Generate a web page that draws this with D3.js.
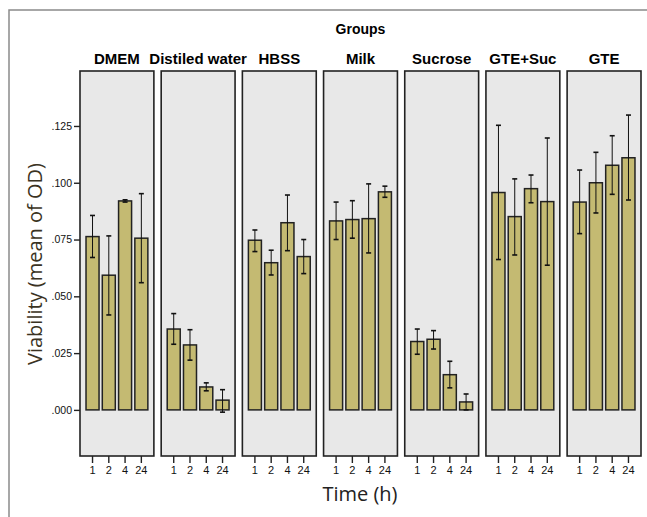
<!DOCTYPE html>
<html>
<head>
<meta charset="utf-8">
<script src="https://cdn.jsdelivr.net/npm/d3@7"></script>
<style>
  body { margin: 0; background: #fff; }
  svg text { font-family: "Liberation Sans", Arial, sans-serif; }
</style>
</head>
<body>
<div id="chart"></div>
<script>
// data
var groups = ["DMEM", "Distiled water", "HBSS", "Milk", "Sucrose", "GTE+Suc", "GTE"];
var times = ["1", "2", "4", "24"];
var yTicks = [0, 0.025, 0.05, 0.075, 0.1, 0.125];

// mean per group, one value per time
var means = [
  [0.0763, 0.0593, 0.0920, 0.0756],
  [0.0356, 0.0286, 0.0101, 0.0043],
  [0.0747, 0.0648, 0.0824, 0.0675],
  [0.0832, 0.0838, 0.0842, 0.0960],
  [0.0301, 0.0311, 0.0155, 0.0035],
  [0.0957, 0.0851, 0.0974, 0.0917],
  [0.0915, 0.1000, 0.1077, 0.1110]
];
// error bar low / high
var errLow = [
  [0.0671, 0.0418, 0.0915, 0.0560],
  [0.0289, 0.0219, 0.0084, -0.0010],
  [0.0697, 0.0594, 0.0701, 0.0600],
  [0.0750, 0.0756, 0.0691, 0.0936],
  [0.0245, 0.0268, 0.0097, 0.0000],
  [0.0662, 0.0682, 0.0912, 0.0637],
  [0.0776, 0.0867, 0.0949, 0.0924]
];
var errHigh = [
  [0.0856, 0.0766, 0.0925, 0.0952],
  [0.0424, 0.0353, 0.0119, 0.0089],
  [0.0792, 0.0703, 0.0946, 0.0750],
  [0.0915, 0.0921, 0.0995, 0.0985],
  [0.0356, 0.0349, 0.0214, 0.0070],
  [0.1253, 0.1017, 0.1034, 0.1197],
  [0.1056, 0.1134, 0.1207, 0.1298]
];

var width = 647, height = 517;
var panelTop = 71, panelBottom = 456;

var svg = d3.select("#chart").append("svg")
  .attr("width", width)
  .attr("height", height);

// outer frame
svg.append("rect")
  .attr("x", 9).attr("y", 10)
  .attr("width", 660).attr("height", 520)
  .attr("fill", "none")
  .attr("stroke", "#8a8a8a")
  .attr("stroke-width", 1.5);

var xGroup = d3.scaleBand()
  .domain(groups)
  .range([80, 641])
  .paddingInner(0.09);

var xTime = d3.scaleBand()
  .domain(times)
  .range([0, xGroup.bandwidth()])
  .paddingInner(0.2)
  .paddingOuter(0.37);

var y = d3.scaleLinear()
  .domain([-0.0203, 0.1492])
  .range([panelBottom, panelTop]);

svg.append("text")
  .attr("x", xGroup(groups[0]) + (xGroup(groups[6]) + xGroup.bandwidth() - xGroup(groups[0])) / 2)
  .attr("y", 34)
  .attr("text-anchor", "middle")
  .attr("font-size", 14)
  .attr("font-weight", "bold")
  .text("Groups");

groups.forEach(function(g, gi) {
  var panel = svg.append("g")
    .attr("transform", "translate(" + xGroup(g) + ",0)");

  panel.append("rect")
    .attr("x", 0).attr("y", panelTop)
    .attr("width", xGroup.bandwidth())
    .attr("height", panelBottom - panelTop)
    .attr("fill", "#e8e8e8")
    .attr("stroke", "#222")
    .attr("stroke-width", 1.6);

  panel.append("text")
    .attr("x", xGroup.bandwidth() / 2)
    .attr("y", 64)
    .attr("text-anchor", "middle")
    .attr("font-size", 15)
    .attr("font-weight", "bold")
    .text(g);

  panel.selectAll(".bar")
    .data(means[gi])
    .enter().append("rect")
    .attr("class", "bar")
    .attr("x", function(d, i) { return xTime(times[i]); })
    .attr("y", function(d) { return y(d); })
    .attr("width", xTime.bandwidth())
    .attr("height", function(d) { return y(0) - y(d); })
    .attr("fill", "#c4ba72")
    .attr("stroke", "#222")
    .attr("stroke-width", 1.5);

  var cap = 2.5;
  times.forEach(function(t, i) {
    var cx = xTime(t) + xTime.bandwidth() / 2;
    var lo = y(errLow[gi][i]), hi = y(errHigh[gi][i]);
    panel.append("line")
      .attr("x1", cx).attr("x2", cx)
      .attr("y1", lo).attr("y2", hi)
      .attr("stroke", "#111").attr("stroke-width", 1);
    [lo, hi].forEach(function(v) {
      panel.append("line")
        .attr("x1", cx - cap).attr("x2", cx + cap)
        .attr("y1", v).attr("y2", v)
        .attr("stroke", "#111").attr("stroke-width", 1.6);
    });
  });

  // time axis under each panel
  var ax = panel.append("g")
    .attr("transform", "translate(0," + panelBottom + ")")
    .call(d3.axisBottom(xTime).tickSize(7).tickPadding(3));
  ax.select(".domain").remove();
  ax.selectAll("line").attr("stroke", "#222").attr("stroke-width", 1.4);
  ax.selectAll("text").attr("font-size", 11).attr("fill", "#111")
    .style("font-family", "'Liberation Sans', Arial, sans-serif");
});

// y axis
var yAx = svg.append("g")
  .attr("transform", "translate(" + xGroup(groups[0]) + ",0)")
  .call(d3.axisLeft(y).tickValues(yTicks).tickSize(6).tickPadding(2)
    .tickFormat(function(d) { return d3.format(".3f")(d).replace(/^0/, ""); }));
yAx.select(".domain").remove();
yAx.selectAll("line").attr("stroke", "#222").attr("stroke-width", 1.4);
yAx.selectAll("text").attr("font-size", 10.5).attr("fill", "#111")
  .style("font-family", "'Liberation Sans', Arial, sans-serif");

svg.append("text")
  .attr("transform", "translate(42,264) rotate(-90)")
  .attr("text-anchor", "middle")
  .attr("font-size", 20)
  .attr("fill", "#3a3222")
  .style("font-family", "'Open Sans', 'Noto Sans', sans-serif")
  .text("Viability (mean of OD)");

svg.append("text")
  .attr("x", 360)
  .attr("y", 501)
  .attr("text-anchor", "middle")
  .attr("font-size", 20)
  .attr("fill", "#222")
  .style("font-family", "'Open Sans', 'Noto Sans', sans-serif")
  .text("Time (h)");
</script>
</body>
</html>
